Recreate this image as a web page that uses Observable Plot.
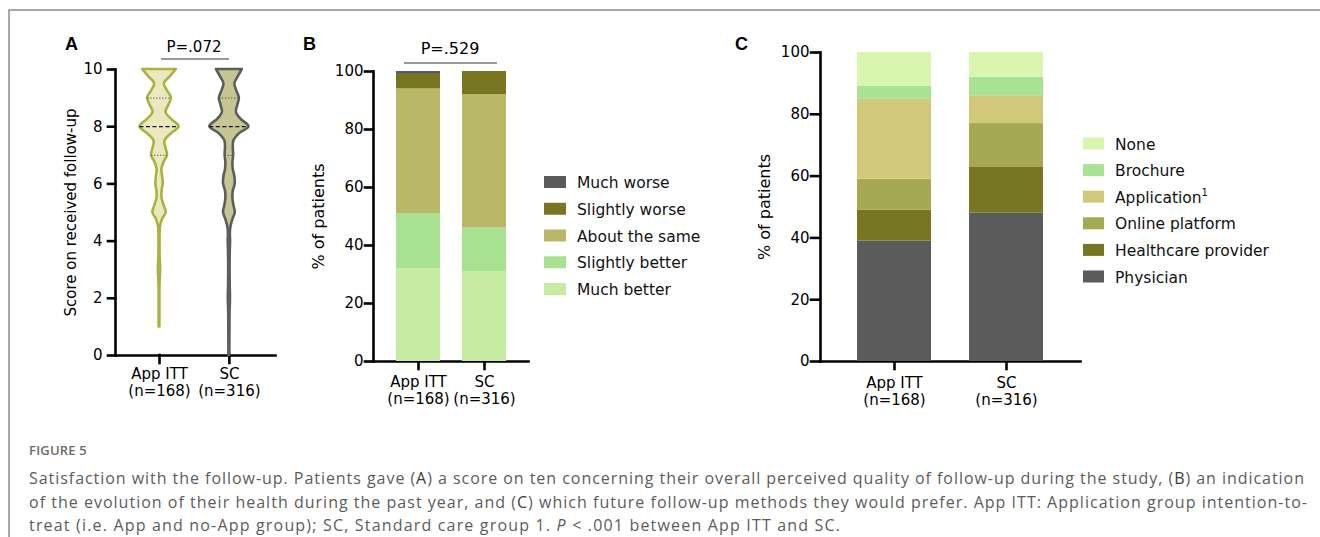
<!DOCTYPE html>
<html><head><meta charset="utf-8">
<script src="https://cdn.jsdelivr.net/npm/d3@7"></script>
<script src="https://cdn.jsdelivr.net/npm/@observablehq/plot@0.6"></script>
<style>
body{margin:0;background:#fff;}
#root{position:relative;width:1320px;height:537px;overflow:hidden;background:#fff;}
#root svg [aria-label$="-axis tick"] path,
#root svg [aria-label$="-axis tick"] line,
#root svg [aria-label="frame"],
#root svg [aria-label="frame"] *{stroke:#000;stroke-width:2.6px;stroke-linecap:square;}
</style></head><body><div id="root"></div><script>
// ---------- shared ----------
const groups = ["App ITT", "SC"];
const groupN = [168, 316];

// ---------- Panel A: violin (score on received follow-up) ----------
const scoreTicks = [0, 2, 4, 6, 8, 10];
const scoreGrid = [10, 9.75, 9.5, 9.25, 9, 8.75, 8.5, 8.25, 8, 7.75, 7.5, 7.25, 7, 6.75, 6.5, 6.25, 6, 5.75, 5.5, 5.25, 5, 4.75, 4.5, 4.25, 4, 3.5, 3, 2.5, 2, 1.5, 1, 0.5, 0];
const densityAppITT = [0.86, 0.56, 0.25, 0.41, 0.61, 0.48, 0.33, 0.63, 1.0, 0.61, 0.28, 0.33, 0.41, 0.23, 0.12, 0.16, 0.19, 0.13, 0.13, 0.23, 0.34, 0.15, 0.05, 0.03, 0.025, 0.03, 0.06, 0.025, 0.02, 0.02, 0.02, null, null];
const densitySC = [0.66, 0.46, 0.28, 0.38, 0.51, 0.43, 0.36, 0.61, 1.0, 0.51, 0.23, 0.2, 0.22, 0.18, 0.2, 0.28, 0.3, 0.2, 0.18, 0.23, 0.3, 0.18, 0.08, 0.05, 0.06, 0.04, 0.035, 0.04, 0.055, 0.035, 0.03, 0.025, 0.025];
const medianScore = [8, 8];
const quartile1 = [7, 7];
const quartile3 = [9, 9];
const violinFill = ["#ebe7bf", "#c6c593"];
const violinStroke = ["#a9b23f", "#5d5d5d"];
const pValueA = "P=.072";

// ---------- Panel B: evolution of health ----------
const pctTicks = [0, 20, 40, 60, 80, 100];
const healthCats = ["Much better", "Slightly better", "About the same", "Slightly worse", "Much worse"];
const healthAppITT = [32, 19, 43, 5, 1];
const healthSC = [31, 15, 46, 8, 0];
const healthColors = ["#c6eba2", "#a9e192", "#b9b867", "#77751f", "#5b5b5b"];
const pValueB = "P=.529";

// ---------- Panel C: preferred follow-up ----------
const followCats = ["Physician", "Healthcare provider", "Online platform", "Application", "Brochure", "None"];
const followAppITT = [39, 10, 10, 26, 4, 11];
const followSC = [48, 15, 14, 9, 6, 8];
const followColors = ["#5b5b5b", "#777622", "#a6a853", "#d1c87a", "#a9e195", "#daf5ad"];

const captionHead = "FIGURE 5";

// ---------- build ----------
const rootEl = document.getElementById("root");
function place(node, left, top) {
  node.style.position = "absolute";
  node.style.left = left + "px";
  node.style.top = top + "px";
  rootEl.appendChild(node);
  return node;
}
const baseStyle = {fontFamily: "'DejaVu Sans', Verdana, sans-serif", fontSize: "15px", color: "#000", background: "transparent", overflow: "visible"};
const tickLabel = d => `${d}\n(n=${groupN[groups.indexOf(d)]})`;

// Panel A
const VW = 0.28; // half-width of a density of 1, in group units
const densities = [densityAppITT, densitySC];
const violinRows = groups.flatMap((g, i) => scoreGrid.map((s, j) => ({group: g, pos: i + 1, score: s, dens: densities[i][j]})).filter(d => d.dens != null));
const densAt = (i, s) => densities[i][scoreGrid.indexOf(s)];
const medianRows = groups.map((g, i) => ({pos: i + 1, score: medianScore[i], dens: densAt(i, medianScore[i])}));
const quartRows = groups.flatMap((g, i) => [quartile1[i], quartile3[i]].map(s => ({pos: i + 1, score: s, dens: densAt(i, s)})));

const plotA = Plot.plot({
  width: 290, height: 420, marginLeft: 115, marginRight: 15, marginTop: 69, marginBottom: 65,
  style: baseStyle,
  x: {domain: [0.37, 2.66], ticks: [1, 2], tickFormat: i => tickLabel(groups[i - 1]), tickSize: 8, tickPadding: 5, line: true, label: null},
  y: {domain: [0, 10], ticks: scoreTicks, tickSize: 7, tickPadding: 6, line: true, label: "Score on received follow-up", labelAnchor: "center", labelOffset: 50, labelArrow: "none"},
  color: {type: "identity"},
  marks: [
    Plot.areaX(violinRows, {y: "score", x1: d => d.pos - d.dens * VW, x2: d => d.pos + d.dens * VW, z: "group",
      fill: d => violinFill[d.pos - 1], stroke: d => violinStroke[d.pos - 1], strokeWidth: 2.6, strokeLinejoin: "round", curve: "catmull-rom"}),
    Plot.ruleY(quartRows, {y: "score", x1: d => d.pos - d.dens * VW, x2: d => d.pos + d.dens * VW, stroke: "#555", strokeWidth: 1, strokeDasharray: "1.3,1.7"}),
    Plot.ruleY(medianRows, {y: "score", x1: d => d.pos - d.dens * VW, x2: d => d.pos + d.dens * VW, stroke: "#111", strokeWidth: 1.3, strokeDasharray: "4,2.5"})
  ]
});
place(plotA, 0, 0);

// Panel B
const healthVals = [healthAppITT, healthSC];
const healthRows = groups.flatMap((g, i) => healthCats.map((c, j) => ({group: g, cat: c, pct: healthVals[i][j]})));
const plotB = Plot.plot({
  width: 250, height: 420, marginLeft: 83, marginRight: 12, marginTop: 71, marginBottom: 59,
  style: baseStyle,
  x: {domain: groups, paddingInner: 1 / 3, paddingOuter: 1 / 3, tickFormat: tickLabel, tickSize: 8, tickPadding: 7, line: true, label: null},
  y: {domain: [0, 100], ticks: pctTicks, tickSize: 8, tickPadding: 2, line: true, label: "% of patients", labelAnchor: "center", labelOffset: 61, labelArrow: "none"},
  color: {domain: healthCats, range: healthColors},
  marks: [Plot.barY(healthRows, {x: "group", y: "pct", fill: "cat"})]
});
place(plotB, 290, 0);

// Panel C
const followVals = [followAppITT, followSC];
const followRows = groups.flatMap((g, i) => followCats.map((c, j) => ({group: g, cat: c, pct: followVals[i][j]})));
const plotC = Plot.plot({
  width: 370, height: 420, marginLeft: 100, marginRight: 10, marginTop: 52, marginBottom: 59,
  style: baseStyle,
  x: {domain: groups, paddingInner: 0.34, paddingOuter: 0.33, tickFormat: tickLabel, tickSize: 8, tickPadding: 8, line: true, label: null},
  y: {domain: [0, 100], ticks: pctTicks, tickSize: 9, tickPadding: 2, line: true, label: "% of patients", labelAnchor: "center", labelOffset: 62, labelArrow: "none"},
  color: {domain: followCats, range: followColors},
  marks: [Plot.barY(followRows, {x: "group", y: "pct", fill: "cat"})]
});
place(plotC, 720, 0);

// multi-line tick label spacing, label sizes
d3.selectAll('#root svg g[aria-label="x-axis tick label"] text').each(function () {
  const ts = d3.select(this).selectAll("tspan").nodes();
  if (ts.length > 1) d3.select(ts[1]).attr("dy", "1.15em");
});
[plotB, plotC].forEach(p => d3.select(p).selectAll('g[aria-label="y-axis label"]').style("font-size", "16px"));

// ---------- overlay: panel letters, p-values, legends, caption, frame ----------
const ov = d3.select(rootEl).append("svg").attr("width", 1320).attr("height", 537)
  .style("position", "absolute").style("left", "0px").style("top", "0px").style("pointer-events", "none")
  .style("font-family", "'DejaVu Sans', Verdana, sans-serif");

ov.append("path").attr("d", "M9,537V10H1320").attr("fill", "none").attr("stroke", "#8c8c8c").attr("stroke-width", 1.5);

[["A", 65, 50], ["B", 303, 50], ["C", 735, 50]].forEach(([t, x, y]) =>
  ov.append("text").attr("x", x).attr("y", y).attr("font-family", "'Liberation Sans', Arial, sans-serif")
    .attr("font-weight", "bold").attr("font-size", 18).attr("fill", "#000").text(t));

ov.append("text").attr("x", 194).attr("y", 52).attr("text-anchor", "middle").attr("font-size", 15).text(pValueA);
ov.append("line").attr("x1", 161).attr("x2", 229).attr("y1", 59).attr("y2", 59).attr("stroke", "#777").attr("stroke-width", 1.5);
ov.append("text").attr("x", 450).attr("y", 54).attr("text-anchor", "middle").attr("font-size", 16).text(pValueB);
ov.append("line").attr("x1", 404).attr("x2", 497).attr("y1", 63).attr("y2", 63).attr("stroke", "#777").attr("stroke-width", 1.5);

// legend B (top to bottom = reverse stacking order)
healthCats.slice().reverse().forEach((c, i) => {
  const cy = 182 + i * 26.75;
  ov.append("rect").attr("x", 544).attr("y", cy - 6).attr("width", 22).attr("height", 12).attr("fill", healthColors[healthCats.indexOf(c)]);
  ov.append("text").attr("x", 577).attr("y", cy + 6).attr("font-size", 15.5).attr("fill", "#111").text(c);
});
// legend C
followCats.slice().reverse().forEach((c, i) => {
  const cy = 143.5 + i * 26.6;
  ov.append("rect").attr("x", 1083).attr("y", cy - 6).attr("width", 21).attr("height", 12).attr("fill", followColors[followCats.indexOf(c)]);
  const t = ov.append("text").attr("x", 1115).attr("y", cy + 6).attr("font-size", 15.5).attr("fill", "#111").text(c);
  if (c === "Application") t.append("tspan").attr("dy", -7).attr("font-size", 10).text("1");
});

// caption
ov.append("text").attr("x", 29).attr("y", 455).attr("font-family", "'Open Sans', sans-serif").attr("font-weight", 600)
  .attr("font-size", 13).attr("fill", "#6b6b6b").attr("letter-spacing", 0.2).text(captionHead);
const capLines = [
  [["Satisfaction with the follow-up. Patients gave ("], ["A", 1], [") a score on ten concerning their overall perceived quality of follow-up during the study, ("], ["B", 1], [") an indication"]],
  [["of the evolution of their health during the past year, and ("], ["C", 1], [") which future follow-up methods they would prefer. App ITT: Application group intention-to-"]],
  [["treat (i.e. App and no-App group); SC, Standard care group 1. "], ["P", 2], [" < .001 between App ITT and SC."]]
];
const capWidths = [1275, 1278, 811];
capLines.forEach((parts, i) => {
  const t = ov.append("text").attr("x", 29).attr("y", 484 + i * 23.5).attr("font-family", "'Open Sans', sans-serif")
    .attr("font-size", 16).attr("fill", "#5c5c5c").attr("textLength", capWidths[i]).attr("lengthAdjust", "spacing");
  parts.forEach(([s, k]) => {
    const sp = t.append("tspan").text(s);
    if (k === 1) sp.attr("fill", "#3a3a3a");
    if (k === 2) sp.attr("font-style", "italic");
  });
});
</script></body></html>
